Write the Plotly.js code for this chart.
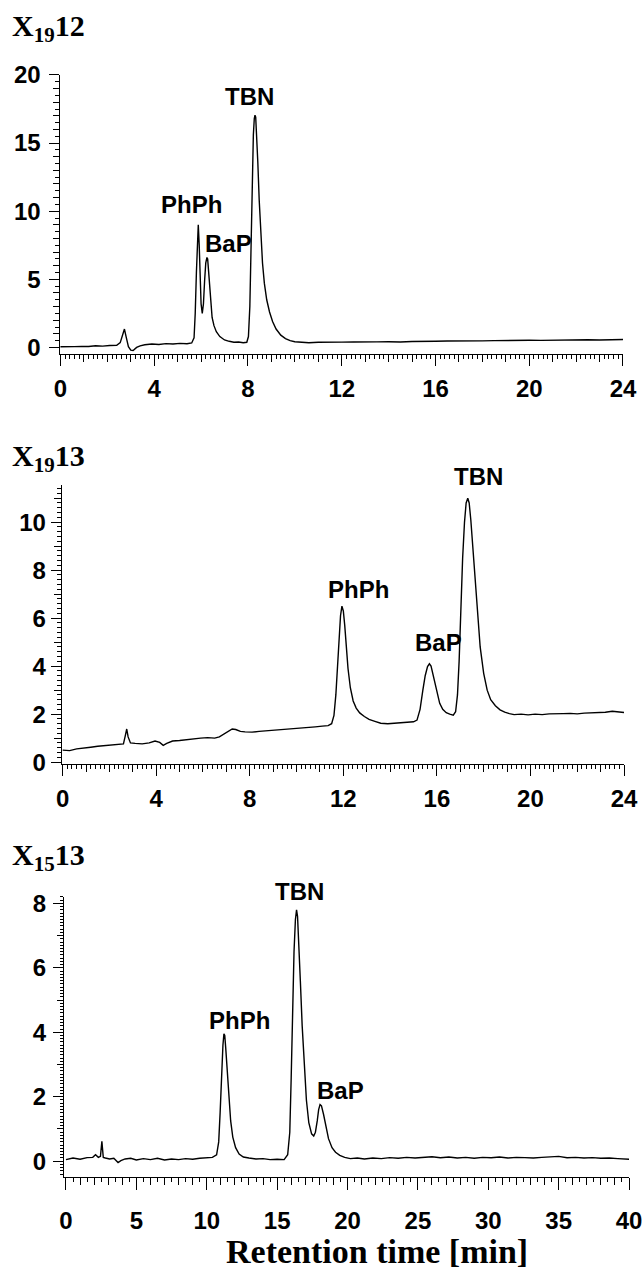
<!DOCTYPE html>
<html>
<head>
<meta charset="utf-8">
<script src="https://cdn.plot.ly/plotly-3.0.1.min.js"></script>
<style>html,body{margin:0;padding:0;background:#fff;}#chart{width:642px;height:1277px;}</style>
</head>
<body>
<div id="chart"></div>
<script>
// ---- Panel 1: X19 12 ----
const t1 = [0, 0.3, 0.6, 0.9, 1.2, 1.5, 1.8, 2.1, 2.4, 2.55, 2.65, 2.73, 2.8, 2.9, 3.0, 3.1, 3.25, 3.4, 3.6, 3.9, 4.2, 4.5, 4.8, 5.1, 5.4, 5.6, 5.7, 5.75, 5.8, 5.85, 5.88, 5.92, 5.96, 6.0, 6.05, 6.1, 6.15, 6.2, 6.25, 6.28, 6.32, 6.37, 6.42, 6.47, 6.55, 6.65, 6.8, 7.0, 7.2, 7.4, 7.6, 7.8, 7.95, 8.02, 8.08, 8.13, 8.18, 8.23, 8.27, 8.3, 8.33, 8.37, 8.42, 8.48, 8.55, 8.62, 8.7, 8.8, 8.92, 9.05, 9.2, 9.4, 9.6, 9.8, 10.0, 10.3, 10.6, 11, 11.5, 12, 12.5, 13, 13.5, 14, 14.5, 15, 15.5, 16, 16.5, 17, 17.5, 18, 18.5, 19, 19.5, 20, 20.5, 21, 21.5, 22, 22.5, 23, 23.5, 24];
const s1 = [0.05, 0.03, 0.06, 0.08, 0.07, 0.12, 0.1, 0.14, 0.16, 0.35, 0.95, 1.35, 0.8, 0.05, -0.2, -0.22, 0.0, 0.12, 0.2, 0.25, 0.22, 0.28, 0.25, 0.3, 0.27, 0.33, 0.7, 2.5, 5.5, 8.2, 9.0, 7.5, 5.0, 3.2, 2.5, 3.2, 4.9, 6.2, 6.6, 6.5, 5.6, 4.3, 3.0, 2.2, 1.6, 1.15, 0.8, 0.55, 0.45, 0.38, 0.4, 0.35, 0.38, 0.8, 3.0, 7.5, 12.5, 15.6, 16.8, 17.05, 16.9, 15.8, 13.6, 10.8, 8.2, 6.2, 4.7, 3.5, 2.6, 1.9, 1.35, 0.9, 0.65, 0.5, 0.42, 0.38, 0.35, 0.38, 0.36, 0.39, 0.4, 0.38, 0.41, 0.42, 0.4, 0.44, 0.43, 0.45, 0.47, 0.46, 0.5, 0.48, 0.5, 0.52, 0.5, 0.53, 0.52, 0.54, 0.55, 0.53, 0.56, 0.55, 0.54, 0.58];

// ---- Panel 2: X19 13 ----
const t2 = [0, 0.3, 0.6, 0.9, 1.2, 1.5, 1.8, 2.1, 2.4, 2.6, 2.68, 2.74, 2.8, 2.9, 3.1, 3.4, 3.7, 3.95, 4.15, 4.3, 4.45, 4.7, 5.0, 5.3, 5.6, 5.9, 6.2, 6.5, 6.7, 6.9, 7.1, 7.25, 7.4, 7.6, 7.8, 8.1, 8.4, 8.7, 9.0, 9.3, 9.6, 9.9, 10.2, 10.5, 10.8, 11.1, 11.35, 11.5, 11.6, 11.68, 11.75, 11.82, 11.88, 11.94, 12.0, 12.06, 12.12, 12.2, 12.3, 12.42, 12.55, 12.7, 12.9, 13.1, 13.35, 13.6, 13.9, 14.2, 14.5, 14.8, 15.0, 15.15, 15.28, 15.4, 15.5, 15.6, 15.68, 15.75, 15.82, 15.9, 16.0, 16.12, 16.25, 16.4, 16.55, 16.7, 16.8, 16.88, 16.95, 17.02, 17.1, 17.18, 17.25, 17.32, 17.38, 17.45, 17.53, 17.62, 17.72, 17.85, 18.0, 18.15, 18.3, 18.5, 18.7, 18.9, 19.1, 19.3, 19.6, 19.9, 20.2, 20.5, 20.8, 21.1, 21.4, 21.7, 22.0, 22.3, 22.6, 22.9, 23.2, 23.5, 23.8, 24];
const s2 = [0.5, 0.48, 0.55, 0.6, 0.62, 0.66, 0.68, 0.7, 0.72, 0.76, 1.1, 1.38, 1.05, 0.8, 0.78, 0.76, 0.8, 0.88, 0.82, 0.7, 0.78, 0.88, 0.9, 0.94, 0.98, 1.0, 1.02, 1.0, 1.05, 1.18, 1.32, 1.38, 1.36, 1.28, 1.26, 1.25, 1.28, 1.3, 1.33, 1.35, 1.38, 1.4, 1.42, 1.45, 1.47, 1.5, 1.52, 1.6, 1.95, 2.8, 3.9, 5.1, 6.1, 6.5, 6.3, 5.7, 4.9, 3.9, 3.1, 2.55, 2.25, 2.05, 1.9, 1.78, 1.7, 1.62, 1.6, 1.62, 1.64, 1.66, 1.68, 1.75, 2.2, 3.0, 3.6, 3.98, 4.1, 4.0, 3.7, 3.3, 2.85, 2.45, 2.2, 2.06, 2.0, 1.96, 2.1, 2.8, 4.2, 6.3, 8.5, 10.0, 10.8, 11.0, 10.8, 10.1, 9.0, 7.6, 6.2, 4.8, 3.7, 3.0, 2.6, 2.35, 2.18, 2.08, 2.02, 1.98, 2.0, 1.97, 2.0, 1.98, 2.01, 2.0, 2.02, 2.03, 2.01, 2.04, 2.05, 2.06, 2.08, 2.12, 2.08, 2.07];

// ---- Panel 3: X15 13 ----
const t3 = [0, 0.5, 1.0, 1.5, 1.9, 2.1, 2.3, 2.45, 2.55, 2.65, 2.8, 3.1, 3.4, 3.7, 3.9, 4.2, 4.6, 5.0, 5.5, 6.0, 6.5, 7.0, 7.5, 8.0, 8.5, 9.0, 9.5, 10.0, 10.4, 10.7, 10.85, 10.95, 11.05, 11.15, 11.22, 11.28, 11.35, 11.45, 11.55, 11.7, 11.85, 12.05, 12.3, 12.6, 13.0, 13.5, 14.0, 14.5, 15.0, 15.5, 15.75, 15.9, 16.0, 16.1, 16.2, 16.3, 16.38, 16.45, 16.55, 16.65, 16.78, 16.92, 17.08, 17.25, 17.45, 17.6, 17.72, 17.85, 17.95, 18.05, 18.15, 18.3, 18.45, 18.65, 18.9, 19.15, 19.45, 19.8, 20.2, 20.7, 21.2, 21.8, 22.4, 23.0, 23.6, 24.2, 24.8, 25.4, 26.0, 26.6, 27.2, 27.8, 28.4, 29.0, 29.6, 30.2, 30.8, 31.4, 32.0, 32.6, 33.2, 33.8, 34.4, 35.0, 35.6, 36.2, 36.8, 37.4, 38.0, 38.6, 39.2, 39.7, 40];
const s3 = [0.05, 0.1, 0.06, 0.11, 0.12, 0.2, 0.12, 0.15, 0.62, 0.12, 0.1, 0.07, 0.09, -0.04, 0.02, 0.07, 0.09, 0.04, 0.08, 0.05, 0.09, 0.04, 0.07, 0.05, 0.08, 0.06, 0.09, 0.1, 0.12, 0.2, 0.6, 1.5, 2.7, 3.6, 3.95, 3.9, 3.5, 2.8, 2.0, 1.25, 0.75, 0.42, 0.22, 0.13, 0.1, 0.07, 0.08, 0.05, 0.06, 0.05, 0.2, 0.9, 2.6, 4.8, 6.5, 7.5, 7.8, 7.6, 6.8, 5.6, 4.2, 2.9, 1.9, 1.2, 0.85, 0.78, 0.9, 1.25, 1.6, 1.76, 1.72, 1.45, 1.1, 0.7, 0.42, 0.28, 0.18, 0.12, 0.08, 0.1, 0.07, 0.1, 0.08, 0.11, 0.09, 0.12, 0.1, 0.13, 0.14, 0.11, 0.13, 0.1, 0.12, 0.09, 0.12, 0.11, 0.13, 0.1, 0.12, 0.11, 0.1, 0.12, 0.13, 0.15, 0.11, 0.12, 0.1, 0.11, 0.09, 0.1, 0.08, 0.07, 0.06];

// ---- Text ----
const panelTitles = ['X<sub>19</sub>12', 'X<sub>19</sub>13', 'X<sub>15</sub>13'];
const peakNames = ['PhPh', 'BaP', 'TBN'];
// label anchors: x in minutes, y as a fraction of each panel's plot height
const labelPos1 = [[5.57, 0.534], [7.15, 0.395], [8.08, 0.922]];
const labelPos2 = [[12.63, 0.624], [16.09, 0.434], [17.76, 1.032]];
const labelPos3 = [[12.3, 0.56], [19.47, 0.31], [16.56, 1.021]];
const xTitle = 'Retention time [min]';

const sansB = {family: 'Liberation Sans, Arial, sans-serif', size: 24, color: '#000', weight: 'bold'};
const serifB = {family: 'Liberation Serif, Times New Roman, serif', size: 30, color: '#000', weight: 'bold'};

function baseAxis(range, domain, dtick, len, minorD, minorLen, standoff, anchor) {
  return {
    range: range, autorange: false, domain: domain, anchor: anchor,
    showline: true, linecolor: '#000', linewidth: 1,
    showgrid: false, zeroline: false,
    ticks: 'outside', ticklen: len, tickwidth: 1, tickcolor: '#000',
    dtick: dtick, tick0: 0, tickfont: sansB, ticklabelstandoff: standoff,
    ticklabeloverflow: 'allow',
    minor: {dtick: minorD, tick0: 0, ticks: 'outside', ticklen: minorLen, tickwidth: 1, tickcolor: '#000', showgrid: false},
    fixedrange: true
  };
}
function overAxis(range, over, anchor, dtick, len) {
  return {
    range: range, autorange: false, overlaying: over, anchor: anchor,
    showline: false, showgrid: false, zeroline: false, showticklabels: false,
    ticks: 'outside', ticklen: len, tickwidth: 1, tickcolor: '#000',
    dtick: dtick, tick0: 0, fixedrange: true
  };
}

const xr1 = [-0.04, 24], yr1 = [-0.48, 20];
const xr2 = [-0.04, 24], yr2 = [-0.08, 11.55];
const xr3 = [-0.14, 40], yr3 = [-0.49, 8.2];

const line = {color: '#000', width: 1.4};
const data = [
  {x: t1, y: s1, xaxis: 'x', yaxis: 'y', type: 'scatter', mode: 'lines', line: line},
  {x: t2, y: s2, xaxis: 'x2', yaxis: 'y2', type: 'scatter', mode: 'lines', line: line},
  {x: t3, y: s3, xaxis: 'x3', yaxis: 'y3', type: 'scatter', mode: 'lines', line: line},
  {x: [], y: [], xaxis: 'x4', yaxis: 'y', type: 'scatter', mode: 'lines'},
  {x: [], y: [], xaxis: 'x', yaxis: 'y4', type: 'scatter', mode: 'lines'},
  {x: [], y: [], xaxis: 'x5', yaxis: 'y2', type: 'scatter', mode: 'lines'},
  {x: [], y: [], xaxis: 'x2', yaxis: 'y5', type: 'scatter', mode: 'lines'},
  {x: [], y: [], xaxis: 'x6', yaxis: 'y3', type: 'scatter', mode: 'lines'},
  {x: [], y: [], xaxis: 'x3', yaxis: 'y6', type: 'scatter', mode: 'lines'}
];

const annotations = [];
const titleY = [0.9781, 0.6414, 0.3289];
panelTitles.forEach((t, i) => annotations.push({
  text: t, xref: 'paper', yref: 'paper', x: 0.015, y: titleY[i], xanchor: 'left', yanchor: 'middle',
  showarrow: false, font: serifB
}));
[[labelPos1, 'x', 'y domain'], [labelPos2, 'x2', 'y2 domain'], [labelPos3, 'x3', 'y3 domain']].forEach(([pos, xa, ya]) => {
  peakNames.forEach((n, i) => annotations.push({
    text: n, xref: xa, yref: ya, x: pos[i][0], y: pos[i][1], xanchor: 'center', yanchor: 'middle',
    showarrow: false, font: sansB
  }));
});
annotations.push({text: xTitle, xref: 'paper', yref: 'paper', x: 0.587, y: 0.0196, xanchor: 'center', yanchor: 'middle',
  showarrow: false, font: {family: 'Liberation Serif, Times New Roman, serif', size: 34, color: '#000', weight: 'bold'}});

const layout = {
  width: 642, height: 1277, margin: {l: 0, r: 0, t: 0, b: 0},
  paper_bgcolor: '#fff', plot_bgcolor: '#fff', showlegend: false,
  xaxis: baseAxis(xr1, [0.0927, 0.9704], 4, 11, 0.2, 4, 2, 'y'),
  yaxis: baseAxis(yr1, [0.7228, 0.9413], 5, 10, 0.5, 4, 3, 'x'),
  xaxis2: baseAxis(xr2, [0.0961, 0.972], 4, 11, 0.2, 4, 2, 'y2'),
  yaxis2: baseAxis(yr2, [0.4017, 0.6202], 2, 10, 0.2, 4, 0, 'x2'),
  xaxis3: baseAxis(xr3, [0.0997, 0.9798], 5, 12, 0.5, 4, 10, 'y3'),
  yaxis3: baseAxis(yr3, [0.0783, 0.2976], 2, 10, 0.1, 3, 2, 'x3'),
  xaxis4: overAxis(xr1, 'x', 'y', 1, 7),
  yaxis4: overAxis(yr1, 'y', 'x', 1, 6),
  xaxis5: overAxis(xr2, 'x2', 'y2', 1, 7),
  yaxis5: overAxis(yr2, 'y2', 'x2', 1, 7),
  xaxis6: overAxis(xr3, 'x3', 'y3', 1, 7),
  yaxis6: overAxis(yr3, 'y3', 'x3', 1, 6),
  annotations: annotations
};

Plotly.newPlot('chart', data, layout, {displayModeBar: false, staticPlot: true});
</script>
</body>
</html>
